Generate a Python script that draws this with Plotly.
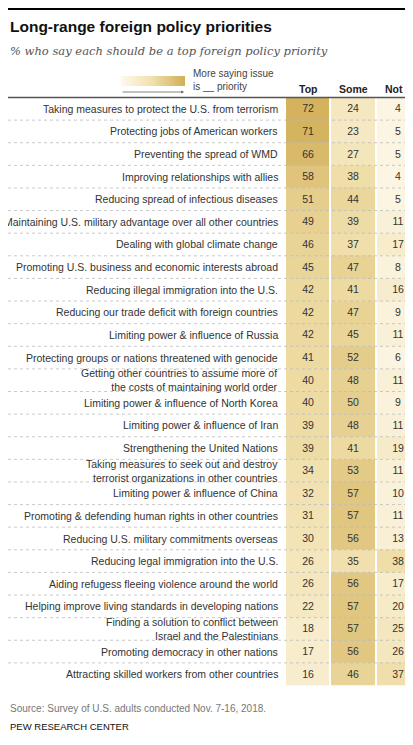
import plotly.graph_objects as go

items = ["Taking measures to protect the U.S. from terrorism","Protecting jobs of American workers","Preventing the spread of WMD","Improving relationships with allies","Reducing spread of infectious diseases","Maintaining U.S. military advantage over all other countries","Dealing with global climate change","Promoting U.S. business and economic interests abroad","Reducing illegal immigration into the U.S.","Reducing our trade deficit with foreign countries","Limiting power & influence of Russia","Protecting groups or nations threatened with genocide","Getting other countries to assume more of<br>the costs of maintaining world order","Limiting power & influence of North Korea","Limiting power & influence of Iran","Strengthening the United Nations","Taking measures to seek out and destroy<br>terrorist organizations in other countries","Limiting power & influence of China","Promoting & defending human rights in other countries","Reducing U.S. military commitments overseas","Reducing legal immigration into the U.S.","Aiding refugess fleeing violence around the world","Helping improve living standards in developing nations","Finding a solution to conflict between<br>Israel and the Palestinians","Promoting democracy in other nations","Attracting skilled workers from other countries"]
top = [72,71,66,58,51,49,46,45,42,42,42,41,40,40,39,39,34,32,31,30,26,26,22,18,17,16]
some = [24,23,27,38,44,39,37,47,41,47,45,52,48,50,48,41,53,57,57,56,35,56,57,57,56,46]
nota = [4,5,5,4,5,11,17,8,16,9,11,6,11,9,11,19,11,10,11,13,38,17,20,25,26,37]
columns = ["Top","Some","Not a"]

W, H = 413, 745
def py(p): return 1 - p / H
n = len(items)
rows = list(range(n))
cs = [[0, "#fdf8ea"], [0.5, "#f0dfaa"], [1, "#d3b05a"]]

z = [[top[i], some[i], nota[i]] for i in rows]
fig = go.Figure()
fig.add_trace(go.Heatmap(z=z, x=[0, 1, 2], y=rows, colorscale=cs, zmin=0, zmax=74,
    showscale=False, xgap=2, ygap=0, text=z, texttemplate="%{text}",
    textfont=dict(size=10.5, color="#333", family="Liberation Sans"), hoverinfo="skip"))
# legend gradient
fig.add_trace(go.Heatmap(z=[list(range(20))], colorscale=cs, showscale=False,
    xaxis="x2", yaxis="y2", hoverinfo="skip"))

top_px, bot_px = 89.5, 677.5
fig.update_layout(
    width=W, height=H, margin=dict(l=0, r=0, t=0, b=0),
    paper_bgcolor="white", plot_bgcolor="white", showlegend=False,
    xaxis=dict(domain=[277 / W, 1], range=[-0.5, 2.5], visible=False),
    yaxis=dict(domain=[py(bot_px), py(top_px)], range=[n - 0.5, -0.5], visible=False),
    xaxis2=dict(domain=[113 / W, 177 / W], range=[-0.5, 19.5], visible=False, anchor="y2"),
    yaxis2=dict(domain=[py(78), py(68)], range=[-0.5, 0.5], visible=False, anchor="x2"),
)
ann = []
for i in rows:
    ann.append(dict(x=272 / W, xref="paper", y=i, yref="y", text=items[i], showarrow=False,
        xanchor="right", yanchor="middle", align="right",
        font=dict(size=10.5, color="#333", family="Liberation Sans")))
for j, c in enumerate(columns):
    ann.append(dict(x=j, xref="x", y=py(81), yref="paper", text="<b>" + c + "</b>", showarrow=False,
        yanchor="middle", font=dict(size=10.5, color="#222", family="Liberation Sans")))
ann += [
    dict(x=0, xref="paper", y=py(18), yref="paper", text="<b>Long-range foreign policy priorities</b>",
         showarrow=False, xanchor="left", yanchor="middle", font=dict(size=15.5, color="#111", family="Liberation Sans")),
    dict(x=0, xref="paper", y=py(43), yref="paper", text="<i>% who say each should be a top foreign policy priority</i>",
         showarrow=False, xanchor="left", yanchor="middle", font=dict(size=11.5, color="#555", family="DejaVu Serif")),
    dict(x=183 / W, xref="paper", y=py(72), yref="paper", text="More saying issue<br>is __ priority",
         showarrow=False, xanchor="left", yanchor="middle", align="left", font=dict(size=10, color="#444", family="Liberation Sans")),
    dict(x=176 / W, xref="paper", y=py(84), yref="paper", ax=-63, ay=0,
         text="", showarrow=True, arrowhead=2, arrowsize=0.7, arrowwidth=0.8, arrowcolor="#666"),
    dict(x=0, xref="paper", y=py(700), yref="paper", text="Source: Survey of U.S. adults conducted Nov. 7-16, 2018.",
         showarrow=False, xanchor="left", yanchor="middle", font=dict(size=10, color="#777", family="Liberation Sans")),
    dict(x=0, xref="paper", y=py(718), yref="paper", text="PEW RESEARCH CENTER",
         showarrow=False, xanchor="left", yanchor="middle", font=dict(size=9.5, color="#111", family="Liberation Sans")),
]
shapes = [
    dict(type="line", xref="paper", yref="paper", x0=0, x1=1, y0=py(1), y1=py(1), line=dict(color="black", width=2)),
    dict(type="line", xref="paper", yref="paper", x0=0, x1=1, y0=py(743), y1=py(743), line=dict(color="black", width=1.5)),
    dict(type="line", xref="paper", yref="paper", x0=0, x1=1, y0=py(top_px), y1=py(top_px), line=dict(color="#555", width=1.5)),
]
for i in rows[:-1]:
    shapes.append(dict(type="line", xref="paper", yref="y", x0=0, x1=1, y0=i + 0.5, y1=i + 0.5,
                       line=dict(color="#bbb", width=0.8, dash="dot")))
fig.update_layout(annotations=ann, shapes=shapes)
fig.write_html("out.html")
